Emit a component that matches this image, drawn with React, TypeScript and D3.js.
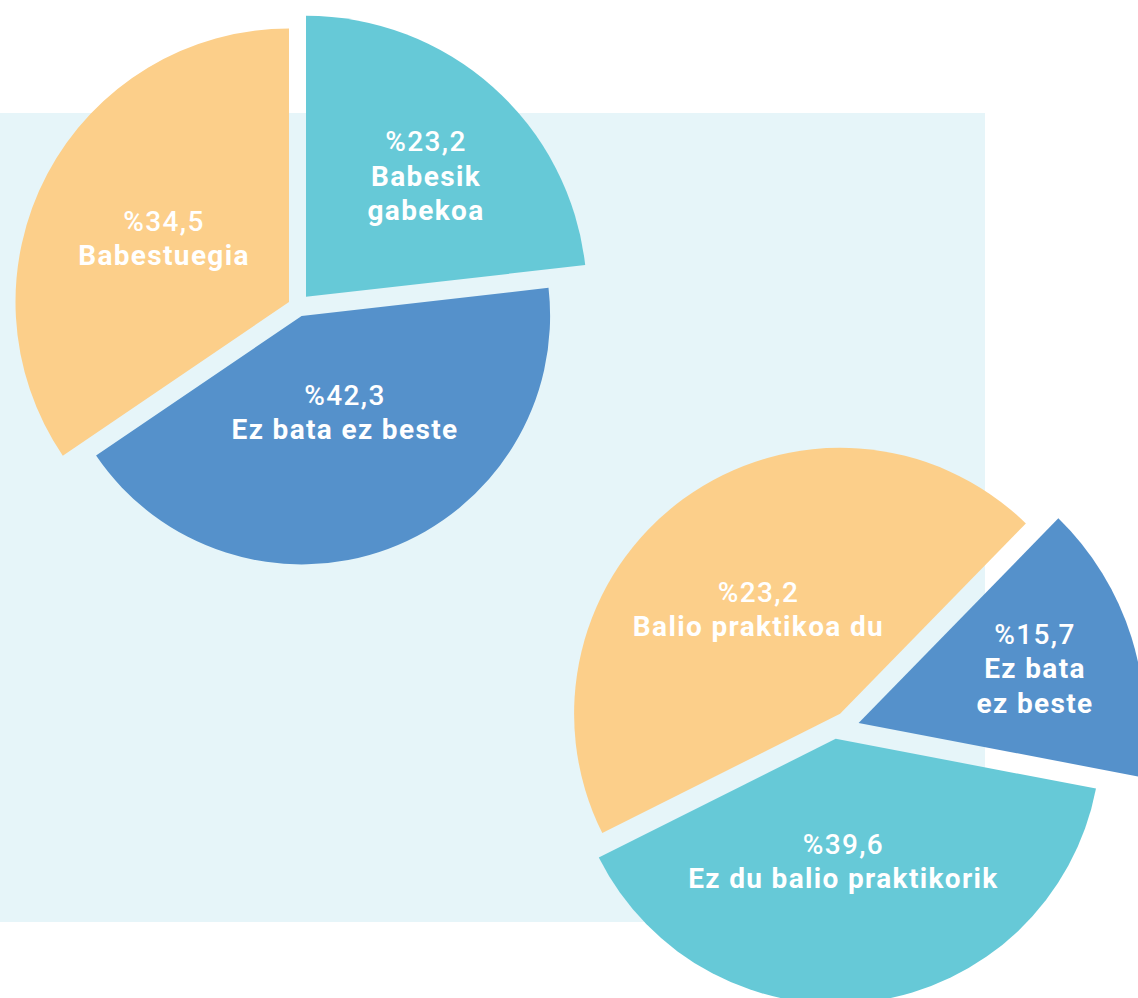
import React from "react";
import * as d3 from "d3";

// ---- Data ----
const pie1Categories = ["Babesik gabekoa", "Ez bata ez beste", "Babestuegia"];
const pie1Values = [23.2, 42.3, 34.5];
const pie1Percents = ["%23,2", "%42,3", "%34,5"];
const pie1LabelLines = [["Babesik", "gabekoa"], ["Ez bata ez beste"], ["Babestuegia"]];

const pie2Categories = ["Ez bata ez beste", "Ez du balio praktikorik", "Balio praktikoa du"];
const pie2Values = [15.7, 39.6, 44.7];
const pie2Percents = ["%15,7", "%39,6", "%23,2"];
const pie2LabelLines = [["Ez bata", "ez beste"], ["Ez du balio praktikorik"], ["Balio praktikoa du"]];

// ---- Styles / layout ----
const TEAL = "#66C9D7";
const BLUE = "#5591CB";
const ORANGE = "#FCCF8A";
const BG = "#E6F5F9";
const W = 1138;
const H = 998;
const FONT = 28;
const LINE = 34.6;
const SPACING = 1.35;

const deg = (d: number) => (d * Math.PI) / 180;

const pies = [
  {
    categories: pie1Categories,
    values: pie1Values,
    percents: pie1Percents,
    lines: pie1LabelLines,
    cx: 298,
    cy: 306,
    start: 0,
    colors: [TEAL, BLUE, ORANGE],
    radii: [281, 248.5, 273.5],
    offsets: [[8, -9.2], [3.6, 9.9], [-9, -4]],
    labelPos: [[128, -155], [47, 98.5], [-134, -75.2]],
  },
  {
    categories: pie2Categories,
    values: pie2Values,
    percents: pie2Percents,
    lines: pie2LabelLines,
    cx: 845,
    cy: 725,
    start: 44.3,
    colors: [BLUE, TEAL, ORANGE],
    radii: [286, 265, 266],
    offsets: [[13.6, -2], [-9.3, 13.8], [-4.9, -11.2]],
    labelPos: [[190, -81.3], [-1.6, 128.8], [-86.5, -123.3]],
  },
];

export default function App() {
  return (
    <svg
      width={W}
      height={H}
      style={{ position: "absolute", left: 0, top: 0, overflow: "hidden" }}
    >
      <rect x={0} y={113} width={985} height={809} fill={BG} />
      {pies.map((p, pi) => {
        const pie = d3
          .pie<number>()
          .sort(null)
          .value((d) => d)
          .startAngle(deg(p.start))
          .endAngle(deg(p.start) + 2 * Math.PI);
        const arcs = pie(p.values);
        return (
          <g key={pi}>
            {arcs.map((a, i) => {
              const arc = d3.arc<d3.PieArcDatum<number>>().innerRadius(0).outerRadius(p.radii[i]);
              return (
                <path
                  key={p.categories[i]}
                  d={arc(a) || ""}
                  fill={p.colors[i]}
                  transform={`translate(${p.cx + p.offsets[i][0]},${p.cy + p.offsets[i][1]})`}
                />
              );
            })}
            {arcs.map((a, i) => {
              const x = p.cx + p.labelPos[i][0];
              const y = p.cy + p.labelPos[i][1];
              const all = [p.percents[i], ...p.lines[i]];
              return (
                <text
                  key={"t" + i}
                  x={x}
                  y={y}
                  textAnchor="middle"
                  fill="#ffffff"
                  fontFamily="Roboto, 'Noto Sans', sans-serif"
                  fontSize={FONT}
                  letterSpacing={SPACING}
                >
                  {all.map((l, j) => (
                    <tspan key={j} x={x} y={y + j * LINE} fontWeight={j === 0 ? 500 : 700}>
                      {l}
                    </tspan>
                  ))}
                </text>
              );
            })}
          </g>
        );
      })}
    </svg>
  );
}
